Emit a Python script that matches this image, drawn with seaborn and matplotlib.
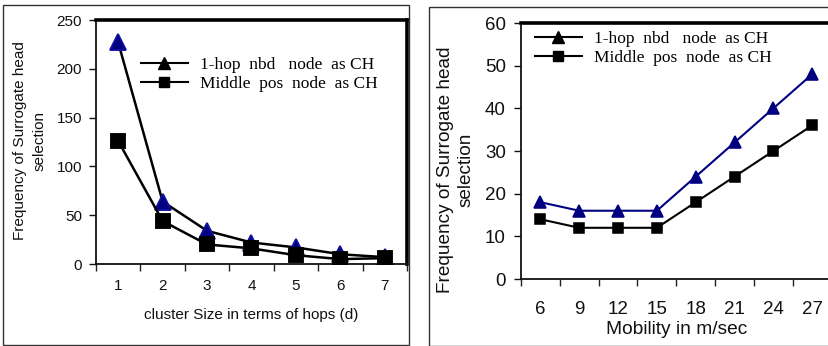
import matplotlib
matplotlib.use("Agg")
import matplotlib.pyplot as plt
from matplotlib.patches import Rectangle
from matplotlib.lines import Line2D
import seaborn as sns
import pandas as pd

# ---- data ----
hops = ["1", "2", "3", "4", "5", "6", "7"]
hops_1hop = [227, 64, 34, 22, 17, 10, 7]
hops_middle = [126, 44, 20, 16, 9, 5, 6]

mobility = ["6", "9", "12", "15", "18", "21", "24", "27"]
mob_1hop = [18, 16, 16, 16, 24, 32, 40, 48]
mob_middle = [14, 12, 12, 12, 18, 24, 30, 36]

label_1hop = "1-hop  nbd   node  as CH"
label_middle = "Middle  pos  node  as CH"

df_left = pd.DataFrame({"x": hops * 2,
                        "y": hops_1hop + hops_middle,
                        "s": [label_1hop] * len(hops) + [label_middle] * len(hops)})
df_right = pd.DataFrame({"x": mobility * 2,
                         "y": mob_1hop + mob_middle,
                         "s": [label_1hop] * len(mobility) + [label_middle] * len(mobility)})

SANS = "Liberation Sans"
SERIF = "Liberation Serif"
plt.rcParams["font.family"] = [SANS, "DejaVu Sans"]

W, H = 829, 346
fig = plt.figure(figsize=(W / 100, H / 100), dpi=100)


def px_axes(l, t, r, b):
    return fig.add_axes([l / W, 1 - b / H, (r - l) / W, (b - t) / H])


def fig_xy(x, y):
    return x / W, 1 - y / H


# outer frames
fig.add_artist(Rectangle(fig_xy(3.5, 344.5), (409.5 - 3.5) / W, (344.5 - 4.5) / H,
                         transform=fig.transFigure, fill=False, lw=1.0, ec="#333333"))
fig.add_artist(Rectangle(fig_xy(429.5, 345.5), (900 - 429.5) / W, (345.5 - 6.5) / H,
                         transform=fig.transFigure, fill=False, lw=1.0, ec="#333333"))

NAVY = "#000080"


def style_axes(ax, n, ymax, ystep, tick_fs, xpad, ypad):
    ax.set_xlim(-0.5, n - 0.5)
    ax.set_ylim(0, ymax)
    ax.set_yticks(range(0, ymax + 1, ystep))
    ax.set_xticks(range(n))
    ax.set_xticks([i - 0.5 for i in range(n + 1)], minor=True)
    ax.tick_params(axis="x", which="major", length=0, pad=xpad, labelsize=tick_fs, colors="#111111")
    ax.tick_params(axis="x", which="minor", length=5, width=1, direction="out", color="#222222")
    ax.tick_params(axis="y", length=5, width=1, direction="out", labelsize=tick_fs,
                   colors="#111111", pad=ypad)
    ax.set_facecolor("white")
    for side in ["left", "bottom"]:
        ax.spines[side].set_linewidth(1.3)
        ax.spines[side].set_color("#111111")
    for side in ["top", "right"]:
        ax.spines[side].set_linewidth(2.6)
        ax.spines[side].set_color("black")
    ax.grid(False)


# ---- left chart ----
ax1 = px_axes(96, 20, 407, 264)
sns.pointplot(data=df_left[df_left.s == label_1hop], x="x", y="y", ax=ax1,
              color="black", markers="^", linestyles="-", errorbar=None,
              markersize=11, linewidth=1.8, zorder=2)
sns.pointplot(data=df_left[df_left.s == label_middle], x="x", y="y", ax=ax1,
              color="black", markers="s", linestyles="-", errorbar=None,
              markersize=9.5, linewidth=1.8, zorder=3)
for ln in ax1.lines:
    if ln.get_marker() == "^":
        ln.set_markerfacecolor(NAVY)
        ln.set_markeredgecolor("#1010a0")
style_axes(ax1, len(hops), 250, 50, 11, 11, 5)
ax1.set_xlabel("cluster Size in terms of hops (d)", fontsize=11, color="#111111")
ax1.xaxis.set_label_coords(*fig_xy(251, 315), transform=fig.transFigure)
ax1.xaxis.label.set_va("center")
ax1.set_ylabel("")
fig.text(*fig_xy(29.5, 141), "Frequency of Surrogate head\nselection", rotation=90,
         ha="center", va="center", multialignment="center", fontsize=11,
         linespacing=1.5, color="#111111")

handles = [Line2D([], [], color="black", marker="^", markersize=8, lw=1.5),
           Line2D([], [], color="black", marker="s", markersize=7.5, lw=1.5)]
leg1 = ax1.legend(handles, [label_1hop, label_middle], loc="upper left",
                  bbox_to_anchor=fig_xy(141, 57), bbox_transform=fig.transFigure,
                  frameon=False, prop={"family": SERIF, "size": 12.5},
                  handlelength=2.7, handletextpad=0.7, labelspacing=0.16, borderpad=0,
                  borderaxespad=0)

# ---- right chart ----
ax2 = px_axes(521, 23, 831.6, 279)
sns.pointplot(data=df_right[df_right.s == label_1hop], x="x", y="y", ax=ax2,
              color=NAVY, markers="^", linestyles="-", errorbar=None,
              markersize=9, linewidth=1.5, zorder=2)
sns.pointplot(data=df_right[df_right.s == label_middle], x="x", y="y", ax=ax2,
              color="black", markers="s", linestyles="-", errorbar=None,
              markersize=7, linewidth=1.5, zorder=3)
style_axes(ax2, len(mobility), 60, 10, 13.5, 15.5, 6)
ax2.set_xlabel("Mobility in m/sec", fontsize=13.8, color="#111111")
ax2.xaxis.set_label_coords(*fig_xy(676.5, 329), transform=fig.transFigure)
ax2.xaxis.label.set_va("center")
ax2.set_ylabel("")
fig.text(*fig_xy(456, 170), "Frequency of Surrogate head\nselection", rotation=90,
         ha="center", va="center", multialignment="center", fontsize=13.7,
         linespacing=1.3, color="#111111")

leg2 = ax2.legend(handles, [label_1hop, label_middle], loc="upper left",
                  bbox_to_anchor=fig_xy(535, 31), bbox_transform=fig.transFigure,
                  frameon=False, prop={"family": SERIF, "size": 12.5},
                  handlelength=2.7, handletextpad=0.7, labelspacing=0.16, borderpad=0,
                  borderaxespad=0)

fig.savefig("out.png", dpi=100)
